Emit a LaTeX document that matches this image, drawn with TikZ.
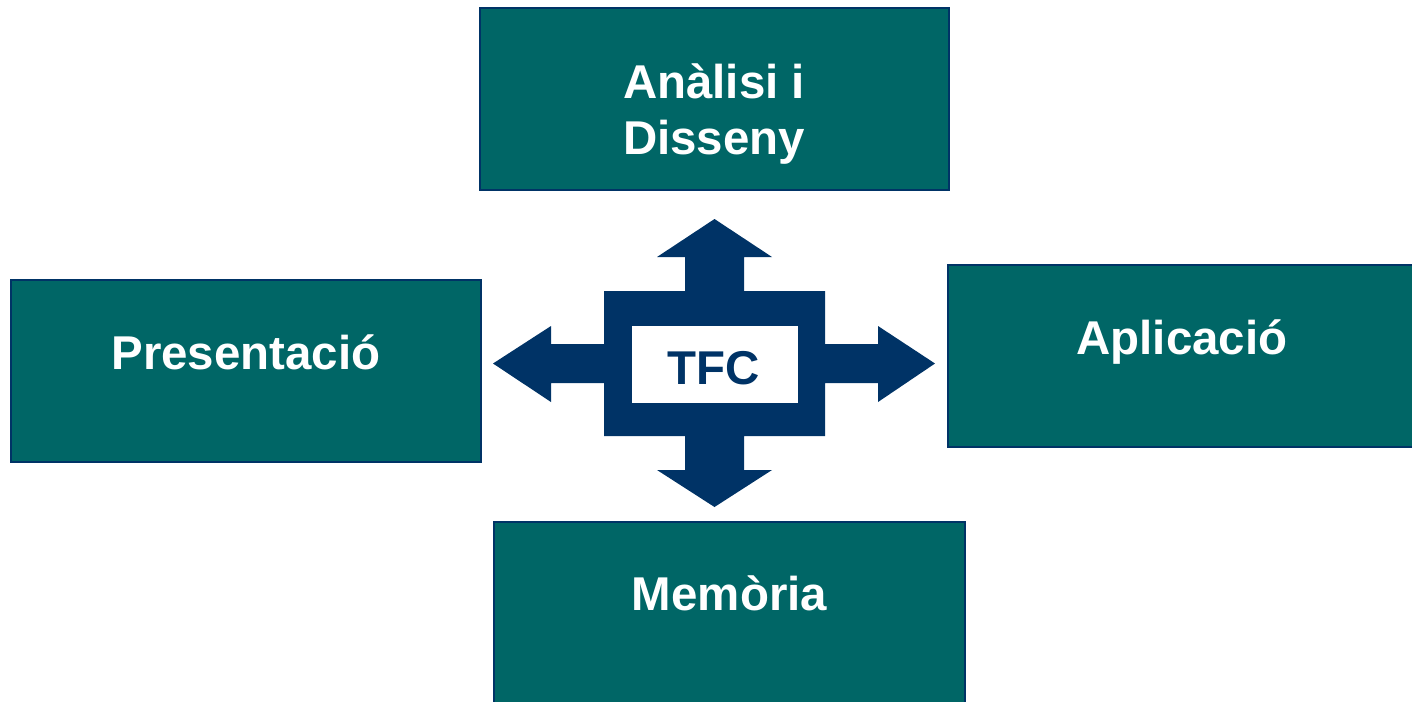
\documentclass[tikz,border=0pt]{standalone}
\usepackage{fontspec}
\setmainfont{Liberation Sans}
\definecolor{teal1}{RGB}{0,102,102}
\definecolor{navy1}{RGB}{0,51,102}
\begin{document}
\begin{tikzpicture}[x=0.02cm,y=-0.02cm,
  box/.style={draw=navy1,fill=teal1,line width=1.1pt,inner sep=0pt,outer sep=0pt,minimum height=3.64cm},
  boxtext/.style={text=white,font=\fontsize{27}{31}\selectfont\bfseries,anchor=base,inner sep=0pt},
  tfcbox/.style={fill=white,inner sep=0pt,minimum width=3.32cm,minimum height=1.54cm},
  tfctext/.style={text=navy1,font=\fontsize{27}{31}\selectfont\bfseries,anchor=base,inner sep=0pt}]
\useasboundingbox (0,0) rectangle (1412,701);
% boxes
\node[box,minimum width=9.38cm] (ad) at (714.5,99) {};
\node[box,minimum width=9.4cm] (pr) at (246,371) {};
\node[box,minimum width=9.36cm] (ap) at (1182,356) {};
\node[box,minimum width=9.42cm] (me) at (729.5,613) {};
\node[boxtext] (ad1) at (714,98) {Anàlisi i};
\node[boxtext] (ad2) at (714,154) {Disseny};
\node[boxtext] (prt) at (246,369) {Presentació};
\node[boxtext] (apt) at (1182,354) {Aplicació};
\node[boxtext] (met) at (729.5,610) {Memòria};
% central cross
\fill[navy1] (714.5,219) -- (772,257) -- (744,257) -- (744,291) -- (825,291) -- (825,344)
  -- (878,344) -- (878,326) -- (935,363.5) -- (878,402) -- (878,383) -- (825,383)
  -- (825,436) -- (744,436) -- (744,470) -- (772,470) -- (714.5,507) -- (657,470)
  -- (685,470) -- (685,436) -- (604,436) -- (604,383) -- (551,383) -- (551,402)
  -- (493,363.5) -- (551,326) -- (551,344) -- (604,344) -- (604,291) -- (685,291)
  -- (685,257) -- (657,257) -- cycle;
\node[tfcbox] (tfc) at (715,364.5) {};
\node[tfctext] (tfct) at (714,384) {TFC};
\end{tikzpicture}
\end{document}
